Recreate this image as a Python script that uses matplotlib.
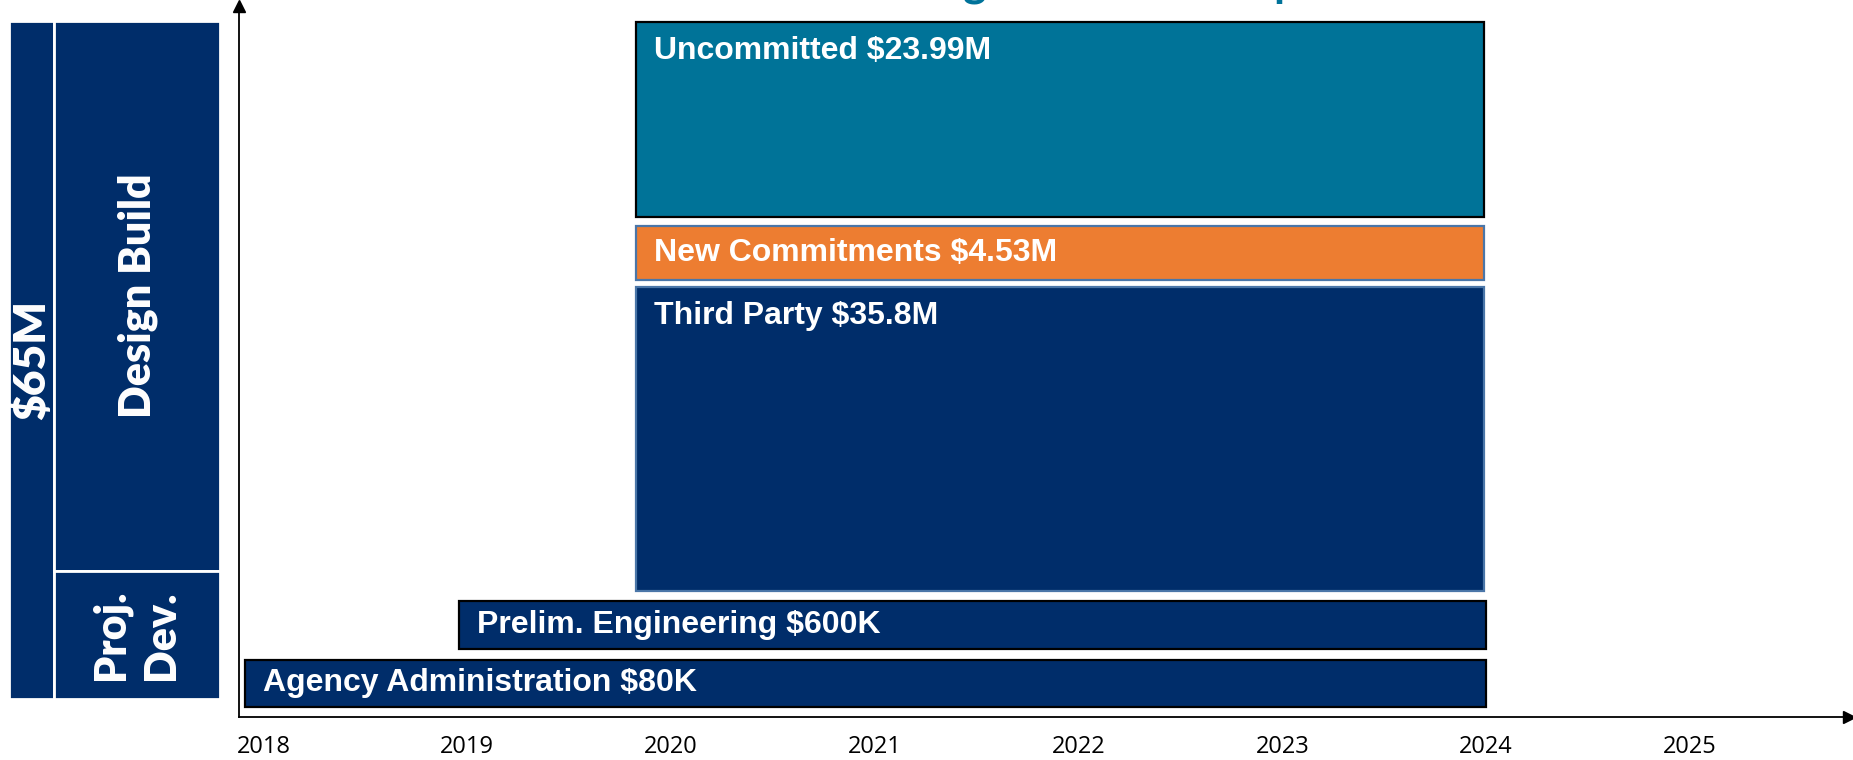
import matplotlib.pyplot as plt
from matplotlib.patches import Rectangle

# Bars: label, start year, end year, colour
labels = ["Agency Administration $80K", "Prelim. Engineering $600K",
          "Third Party $35.8M", "New Commitments $4.53M", "Uncommitted $23.99M"]
starts = [2017.91, 2018.96, 2019.83, 2019.83, 2019.83]
ends = [2024.0, 2024.0, 2023.99, 2023.99, 2023.99]
years = [2018, 2019, 2020, 2021, 2022, 2023, 2024, 2025]

# layout of the rows (axis units 0-100)
bottoms = [1.5, 9.6, 17.8, 61.5, 70.4]
heights = [6.6, 6.8, 42.7, 7.6, 27.4]
colors = ["#002D6A", "#002D6A", "#002D6A", "#ED7D31", "#007398"]
edges = ["black", "black", "#4A76A8", "#4A76A8", "black"]
label_pos = ["center", "center", "top", "center", "top"]

navy = "#002D6A"
label_font = ["Liberation Sans", "DejaVu Sans"]

fig = plt.figure(figsize=(18.53, 7.6), dpi=100)

# title sits mostly above the top edge, as in the original slide
fig.text(0.446, 1.0 + 3 / 760, "Funding Allocation Map", color="#00739A", fontsize=32,
         fontweight="bold", family="Lato", ha="left", va="baseline")

# main timeline axes
ax = fig.add_axes([0.1288, 0.056, 0.8693, 0.9362])
ax.barh(bottoms, [e - s for s, e in zip(starts, ends)], left=starts, height=heights,
        align="edge", color=colors, edgecolor=edges, linewidth=1.6)

for lab, s, b, h, pos in zip(labels, starts, bottoms, heights, label_pos):
    if pos == "center":
        ax.annotate(lab, (s, b + h / 2), xytext=(18, 0), textcoords="offset pixels",
                    va="center", ha="left", color="white", fontsize=23,
                    fontweight="bold", family=label_font)
    else:
        ax.annotate(lab, (s, b + h), xytext=(18, -14), textcoords="offset pixels",
                    va="top", ha="left", color="white", fontsize=23,
                    fontweight="bold", family=label_font)

ax.set_xlim(2017.878, 2025.784)
ax.set_ylim(0, 100)
ax.set_xticks(years)
ax.set_xticklabels([str(y) for y in years], family="Open Sans", fontsize=17)
ax.set_yticks([])
ax.tick_params(axis="x", length=0, pad=13)
for side in ["top", "right"]:
    ax.spines[side].set_visible(False)
for side in ["left", "bottom"]:
    ax.spines[side].set_linewidth(1.3)
    ax.spines[side].set_color("black")
ax.plot(1, 0, ">k", transform=ax.transAxes, clip_on=False, ms=9)
ax.plot(0, 1, "^k", transform=ax.transAxes, clip_on=False, ms=9)

# left-hand label boxes
side = fig.add_axes([8 / 1568, 1 - 591 / 643, 178 / 1568, 573 / 643])
side.set_xlim(0, 1)
side.set_ylim(0, 1)
side.axis("off")
side.add_patch(Rectangle((0, 0), 0.213, 1, facecolor=navy, edgecolor="white", lw=2))
side.add_patch(Rectangle((0.213, 0.189), 0.787, 0.811, facecolor=navy, edgecolor="white", lw=2))
side.add_patch(Rectangle((0.213, 0), 0.787, 0.189, facecolor=navy, edgecolor="white", lw=2))
side.text(0.107, 0.5, "$65M", rotation=90, color="white", fontsize=32,
          fontweight="heavy", family="Lato", ha="center", va="center")
side.text(0.61, 0.595, "Design Build", rotation=90, color="white", fontsize=31,
          fontweight="heavy", family="Lato", ha="center", va="center")
side.text(0.60, 0.094, "Proj.\nDev.", rotation=90, color="white", fontsize=31,
          fontweight="heavy", family="Lato", ha="center", va="center", linespacing=1.3)

fig.savefig("out.png", dpi=100)
